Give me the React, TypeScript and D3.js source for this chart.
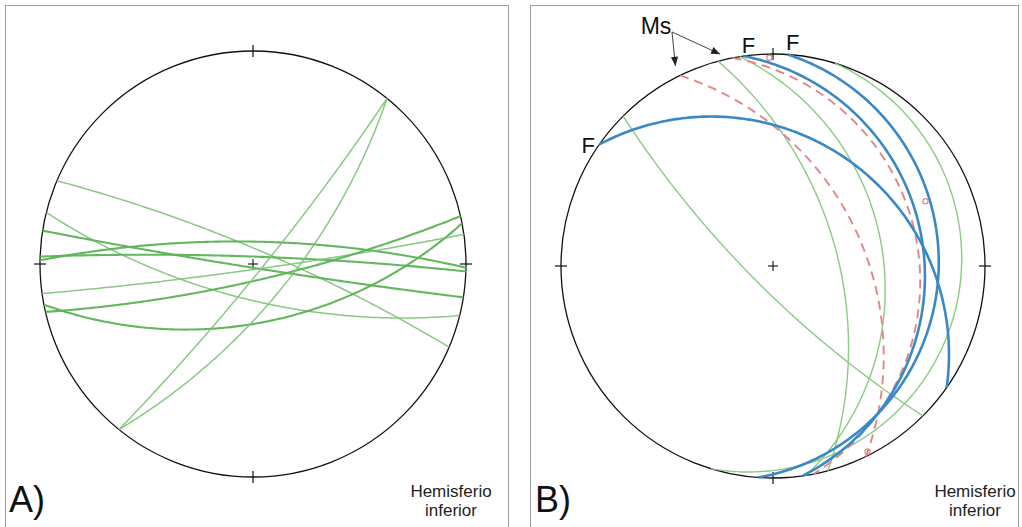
import React, { useEffect, useRef } from "react";
import * as d3 from "d3";

// Panel A: planes (dip direction / dip, degrees), set decides line weight
const aDipDir = [23, 194, 189, 2, 1, 172, 167, 169, 129, 129];
const aDip = [82, 71, 88, 86, 78, 87, 81, 59, 85, 70];
const aSet = ["s2", "s2", "s1", "s1", "s1", "s2", "s1", "s1", "s2", "s2"];

// Panel B: faults (F), mylonitic foliation (Ms) and other planes
const bFaultDipDir = [35, 82, 94];
const bFaultDip = [27, 19, 14];
const bMsDipDir = [64, 79];
const bMsDip = [44, 21];
const bPlaneDipDir = [225, 75, 81, 107];
const bPlaneDip = [78, 56, 35, 7];
const bLineTrend = [359, 67, 153];
const bLinePlunge = [1, 14, 1];

const hemisphereLabel = ["Hemisferio", "inferior"];

const rad = Math.PI / 180;

// lower hemisphere, equal-angle (Wulff) projection -> unit disc
const projectVec = (E: number, N: number, D: number): [number, number] => [E / (1 + D), N / (1 + D)];

const greatCircle = (dd: number, dip: number) => {
  const s = (dd - 90) * rad;
  const a = dd * rad;
  const d = dip * rad;
  return d3.range(0, 180.5, 1).map((k) => {
    const t = k * rad;
    const E = Math.cos(t) * Math.sin(s) + Math.sin(t) * Math.sin(a) * Math.cos(d);
    const N = Math.cos(t) * Math.cos(s) + Math.sin(t) * Math.cos(a) * Math.cos(d);
    const D = Math.sin(t) * Math.sin(d);
    return projectVec(E, N, D);
  });
};

const linePoint = (trend: number, plunge: number) => {
  const p = plunge * rad;
  const t = trend * rad;
  return projectVec(Math.cos(p) * Math.sin(t), Math.cos(p) * Math.cos(t), Math.sin(p));
};

const App = () => {
  const svgRef = useRef(null);

  useEffect(() => {
    const svg = d3.select(svgRef.current);
    svg.selectAll("*").remove();

    svg
      .append("defs")
      .append("marker")
      .attr("id", "arrow")
      .attr("viewBox", "0 0 10 10")
      .attr("refX", 10)
      .attr("refY", 5)
      .attr("markerWidth", 10)
      .attr("markerHeight", 9)
      .attr("markerUnits", "userSpaceOnUse")
      .attr("orient", "auto")
      .append("path")
      .attr("d", "M0,1 L10,5 L0,9 Z")
      .attr("fill", "#222");

    const font = "'Liberation Sans', Arial, sans-serif";

    // frames
    svg.append("rect").attr("x", 5.5).attr("y", 5.5).attr("width", 503).attr("height", 540)
      .attr("fill", "none").attr("stroke", "#a0a0a0").attr("stroke-width", 1);
    svg.append("rect").attr("x", 530.5).attr("y", 5.5).attr("width", 488).attr("height", 540)
      .attr("fill", "none").attr("stroke", "#a0a0a0").attr("stroke-width", 1);

    const makeNet = (cx: number, cy: number, R: number, label: string, lx: number, hx: number) => {
      const x = d3.scaleLinear().domain([-1, 1]).range([cx - R, cx + R]);
      const y = d3.scaleLinear().domain([-1, 1]).range([cy + R, cy - R]);
      const line = d3.line<[number, number]>().x((d) => x(d[0])).y((d) => y(d[1]));
      const g = svg.append("g");

      g.append("circle").attr("cx", x(0)).attr("cy", y(0)).attr("r", R)
        .attr("fill", "none").attr("stroke", "#111").attr("stroke-width", 1.3);

      // cardinal ticks
      const tk = 6 / R;
      [[0, 1], [1, 0], [0, -1], [-1, 0]].forEach(([u, v]) => {
        g.append("line")
          .attr("x1", x(u * (1 - tk))).attr("y1", y(v * (1 - tk)))
          .attr("x2", x(u * (1 + tk))).attr("y2", y(v * (1 + tk)))
          .attr("stroke", "#111").attr("stroke-width", 1.2);
      });
      // centre cross
      g.append("line").attr("x1", x(0) - 5).attr("x2", x(0) + 5).attr("y1", y(0)).attr("y2", y(0))
        .attr("stroke", "#111").attr("stroke-width", 1.1);
      g.append("line").attr("x1", x(0)).attr("x2", x(0)).attr("y1", y(0) - 5).attr("y2", y(0) + 5)
        .attr("stroke", "#111").attr("stroke-width", 1.1);

      svg.append("text").attr("x", lx).attr("y", 512).attr("font-family", font)
        .attr("font-size", 36).attr("fill", "#111").text(label);

      const ht = svg.append("text").attr("font-family", font).attr("font-size", 17)
        .attr("fill", "#222").attr("text-anchor", "middle");
      hemisphereLabel.forEach((t, i) => {
        ht.append("tspan").attr("x", hx).attr("y", 497 + i * 19).text(t);
      });

      return { g, x, y, line };
    };

    // ---- Panel A
    const A = makeNet(253, 264, 213, "A)", 9, 451);
    aDipDir.forEach((dd, i) => {
      const heavy = aSet[i] === "s1";
      A.g.append("path")
        .attr("d", A.line(greatCircle(dd, aDip[i])))
        .attr("fill", "none")
        .attr("stroke", heavy ? "#5cb354" : "#7dc275")
        .attr("stroke-width", heavy ? 2.1 : 1.5)
        .attr("stroke-opacity", heavy ? 0.95 : 0.9);
    });

    // ---- Panel B
    const B = makeNet(773, 266, 212, "B)", 535, 975);
    bPlaneDipDir.forEach((dd, i) => {
      B.g.append("path").attr("d", B.line(greatCircle(dd, bPlaneDip[i])))
        .attr("fill", "none").attr("stroke", "#8ccb84").attr("stroke-width", 1.4);
    });
    bMsDipDir.forEach((dd, i) => {
      B.g.append("path").attr("d", B.line(greatCircle(dd, bMsDip[i])))
        .attr("fill", "none").attr("stroke", "#e38686").attr("stroke-width", 1.9)
        .attr("stroke-dasharray", "9,6");
    });
    bFaultDipDir.forEach((dd, i) => {
      B.g.append("path").attr("d", B.line(greatCircle(dd, bFaultDip[i])))
        .attr("fill", "none").attr("stroke", "#3a88c6").attr("stroke-width", 2.6);
    });
    bLineTrend.forEach((t, i) => {
      const [u, v] = linePoint(t, bLinePlunge[i]);
      B.g.append("circle").attr("cx", B.x(u)).attr("cy", B.y(v)).attr("r", 2.6)
        .attr("fill", "none").attr("stroke", "#e38686").attr("stroke-width", 1.2);
    });

    // F labels at the strike ends of the faults
    const fOffsets = [[-11, 1], [5, -11], [5, -12]];
    bFaultDipDir.forEach((dd, i) => {
      const t = (dd - 90 + 360) % 360;
      const [u, v] = linePoint(t, 0);
      svg.append("text")
        .attr("x", B.x(u) + fOffsets[i][0]).attr("y", B.y(v) + fOffsets[i][1])
        .attr("text-anchor", "middle").attr("dominant-baseline", "central")
        .attr("font-family", font).attr("font-size", 22).attr("fill", "#111").text("F");
    });

    // Ms label with arrows pointing at the strike ends of the Ms planes
    svg.append("text").attr("x", 656).attr("y", 34).attr("text-anchor", "middle")
      .attr("font-family", font).attr("font-size", 23).attr("fill", "#111").text("Ms");
    const arrowReach = [1.05, 1.03];
    const arrowTurn = [0, -3];
    bMsDipDir.forEach((dd, i) => {
      const t = (dd - 90 + arrowTurn[i] + 360) % 360;
      const [u, v] = linePoint(t, 0);
      const tx = B.x(u * arrowReach[i]);
      const ty = B.y(v * arrowReach[i]);
      svg.append("line").attr("x1", 672).attr("y1", 32).attr("x2", tx).attr("y2", ty)
        .attr("stroke", "#444").attr("stroke-width", 1).attr("marker-end", "url(#arrow)");
    });
  }, []);

  return (
    <svg
      ref={svgRef}
      width={1022}
      height={527}
      style={{ position: "absolute", left: 0, top: 0, background: "#fff" }}
    />
  );
};

export default App;
